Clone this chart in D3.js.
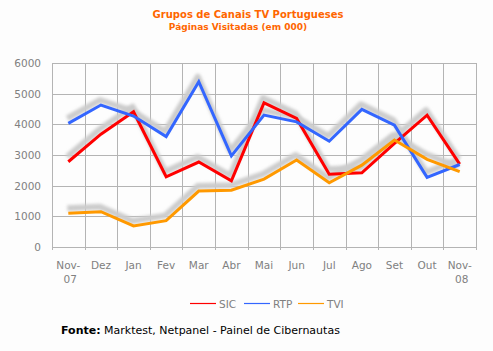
<!DOCTYPE html>
<html>
<head>
<meta charset="utf-8">
<script src="https://cdn.jsdelivr.net/npm/d3@7"></script>
<style>
  body { margin: 0; background: #fdfdfd; }
  svg { display: block; }
  text { font-family: "DejaVu Sans", Verdana, sans-serif; }
</style>
</head>
<body>
<svg id="chart" width="493" height="351"></svg>
<script>
var width = 493,
    height = 351;

// data (page views, thousands)
var months = ["Nov-07", "Dez", "Jan", "Fev", "Mar", "Abr", "Mai", "Jun", "Jul", "Ago", "Set", "Out", "Nov-08"];
var sic = [2780, 3680, 4410, 2290, 2770, 2160, 4700, 4190, 2370, 2420, 3380, 4300, 2700];
var rtp = [4030, 4630, 4270, 3600, 5390, 2970, 4300, 4080, 3450, 4490, 3970, 2270, 2690];
var tvi = [1100, 1150, 685, 860, 1825, 1850, 2215, 2835, 2095, 2670, 3490, 2860, 2455];
var yTicks = [0, 1000, 2000, 3000, 4000, 5000, 6000];

var series = [
    { name: "SIC", values: sic, color: "#ff0000" },
    { name: "RTP", values: rtp, color: "#3366ff" },
    { name: "TVI", values: tvi, color: "#ff9900" }
];

var margin = { left: 52, right: 17, top: 63, bottom: 104 };

var svg = d3.select("#chart");

// shadow filter
svg.append("defs")
    .append("filter")
    .attr("id", "blur")
    .attr("x", "-10%").attr("y", "-10%")
    .attr("width", "120%").attr("height", "120%")
    .append("feGaussianBlur")
    .attr("stdDeviation", 1.6);

var x = d3.scaleBand()
    .domain(months)
    .range([margin.left, width - margin.right]);

var y = d3.scaleLinear()
    .domain([0, 6000])
    .range([height - margin.bottom, margin.top]);

// titles
svg.append("text")
    .attr("x", 248).attr("y", 18)
    .attr("text-anchor", "middle")
    .attr("fill", "#ff6600")
    .attr("font-size", 10)
    .attr("font-weight", "bold")
    .text("Grupos de Canais TV Portugueses");
svg.append("text")
    .attr("x", 238).attr("y", 30)
    .attr("text-anchor", "middle")
    .attr("fill", "#ff6600")
    .attr("font-size", 9)
    .attr("font-weight", "bold")
    .text("Páginas Visitadas (em 000)");

// grid
var grid = svg.append("g").attr("stroke", "#b4b4b4").attr("stroke-width", 1);
grid.selectAll("line.h")
    .data(yTicks)
    .join("line")
    .attr("class", "h")
    .attr("x1", margin.left)
    .attr("x2", width - margin.right)
    .attr("y1", function (d) { return Math.round(y(d)) + 0.5; })
    .attr("y2", function (d) { return Math.round(y(d)) + 0.5; });

var xEdges = months.map(function (m) { return x(m); }).concat([width - margin.right]);
grid.selectAll("line.v")
    .data(xEdges)
    .join("line")
    .attr("class", "v")
    .attr("x1", function (d) { return Math.round(d) + 0.5; })
    .attr("x2", function (d) { return Math.round(d) + 0.5; })
    .attr("y1", y(6000))
    .attr("y2", y(0) + 3);

// y labels
svg.append("g")
    .selectAll("text")
    .data(yTicks)
    .join("text")
    .attr("x", 41)
    .attr("y", function (d) { return y(d) + 4; })
    .attr("text-anchor", "end")
    .attr("fill", "#808080")
    .attr("font-size", 10.5)
    .text(function (d) { return d; });

// x labels
var xl = svg.append("g")
    .selectAll("text")
    .data(months)
    .join("text")
    .attr("x", function (d) { return x(d) + x.bandwidth() / 2; })
    .attr("y", 269)
    .attr("text-anchor", "middle")
    .attr("fill", "#808080")
    .attr("font-size", 10.5);
xl.each(function (d) {
    var parts = d.split("-");
    var t = d3.select(this);
    if (parts.length > 1) {
        t.append("tspan").attr("x", x(d) + x.bandwidth() / 2).text(parts[0] + "-");
        t.append("tspan").attr("x", x(d) + x.bandwidth() / 2 + 2).attr("dy", 13.5).text(parts[1]);
    } else {
        t.text(d);
    }
});

var line = d3.line()
    .x(function (d, i) { return x(months[i]) + x.bandwidth() / 2; })
    .y(function (d) { return y(d); });

// shadows first
svg.append("g")
    .selectAll("path")
    .data(series)
    .join("path")
    .attr("d", function (s) { return line(s.values); })
    .attr("transform", "translate(-1,-5)")
    .attr("fill", "none")
    .attr("stroke", "#cccccc")
    .attr("stroke-width", 6)
    .attr("stroke-linejoin", "round")
    .attr("filter", "url(#blur)");

svg.append("g")
    .selectAll("path")
    .data(series)
    .join("path")
    .attr("d", function (s) { return line(s.values); })
    .attr("fill", "none")
    .attr("stroke", function (s) { return s.color; })
    .attr("stroke-width", 3);

// legend
var legendX = [190, 244, 298];
var lg = svg.append("g")
    .selectAll("g")
    .data(series)
    .join("g")
    .attr("transform", function (s, i) { return "translate(" + legendX[i] + ",303.5)"; });
lg.append("line")
    .attr("x1", 0).attr("x2", 26)
    .attr("stroke", function (s) { return s.color; })
    .attr("stroke-width", 1.2);
lg.append("text")
    .attr("x", 29).attr("y", 4)
    .attr("fill", "#808080")
    .attr("font-size", 10.5)
    .text(function (s) { return s.name; });

// footer
var ft = svg.append("text")
    .attr("x", 61).attr("y", 334)
    .attr("fill", "#000")
    .attr("font-size", 11)
    .text(null);
ft.append("tspan").attr("font-weight", "bold").text("Fonte:");
ft.append("tspan").text(" Marktest, Netpanel - Painel de Cibernautas");
</script>
</body>
</html>
